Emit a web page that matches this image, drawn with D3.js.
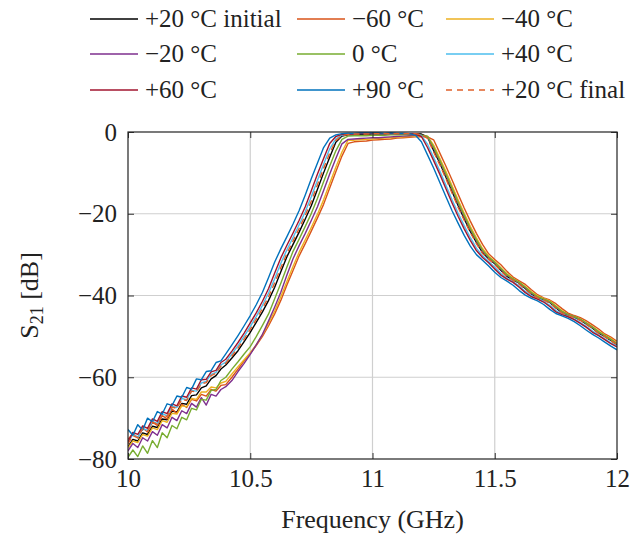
<!DOCTYPE html>
<html lang="en">
<head>
    <meta charset="UTF-8">
    <title>S21 vs temperature</title>
    <script src="https://cdn.jsdelivr.net/npm/d3@7/dist/d3.min.js"></script>
    <style>
        body { margin: 0; background: #fff; }
        text { font-family: "Liberation Serif", "Times New Roman", serif; fill: #222; }
    </style>
</head>
<body>
    <script>
        // frequency grid (GHz), shared by every trace
        var freq = [10.00,10.02,10.04,10.06,10.08,10.10,10.12,10.14,10.16,10.18,10.20,10.22,10.24,10.26,10.28,10.30,10.32,10.34,10.36,10.38,10.40,
            10.425,10.45,10.475,10.50,10.525,10.55,10.575,10.60,10.625,10.65,10.675,10.70,10.725,10.75,10.775,10.80,10.825,10.85,
            10.875,10.90,10.925,10.95,10.975,11.00,11.025,11.05,11.075,11.10,11.125,11.15,11.175,11.20,
            11.225,11.25,11.275,11.30,11.325,11.35,11.375,11.40,11.425,11.45,11.475,11.50,11.525,11.55,11.575,11.60,11.625,11.65,11.675,11.70,11.725,11.75,11.775,11.80,11.825,11.85,11.875,11.90,11.925,11.95,11.975,12.00];

        // S21 in dB, one array per temperature
        var s20init = [-77.0,-75.2,-75.6,-73.6,-74.0,-72.0,-72.3,-70.2,-70.4,-68.3,-68.5,-66.4,-66.6,-64.5,-64.3,-62.6,-62.1,-60.4,-59.6,-58.0,-57.0,
            -55.3,-53.5,-51.3,-49.0,-46.5,-44.0,-41.2,-38.0,-34.2,-30.5,-27.5,-24.5,-21.3,-18.0,-14.0,-10.0,-6.2,-2.5,
            -1.0,-0.7,-0.7,-0.6,-0.6,-0.5,-0.5,-0.5,-0.4,-0.5,-0.5,-0.4,-0.4,-0.5,
            -1.2,-4.5,-7.6,-11.0,-14.5,-18.0,-21.2,-24.3,-27.0,-29.5,-31.0,-32.2,-33.8,-35.3,-36.2,-37.0,-38.3,-39.6,-40.5,-41.0,-41.7,-43.0,-44.2,-44.8,-45.3,-46.0,-47.0,-48.0,-49.2,-50.0,-51.0,-52.0];
        var sm60 = [-75.2,-73.8,-74.8,-72.4,-73.4,-71.0,-71.8,-69.4,-70.2,-67.8,-68.8,-66.6,-67.4,-65.4,-65.8,-64.2,-64.6,-63.0,-63.4,-62.0,-61.8,
            -60.0,-58.0,-56.0,-54.2,-52.2,-50.0,-47.4,-44.5,-41.2,-37.4,-33.9,-30.3,-27.3,-24.2,-21.0,-17.7,-13.7,-9.7,
            -5.9,-2.8,-2.4,-2.3,-2.2,-2.0,-1.9,-1.8,-1.7,-1.5,-1.4,-1.3,-1.2,-1.1,
            -1.2,-1.9,-5.1,-8.3,-11.7,-15.2,-18.6,-21.8,-24.8,-27.5,-29.8,-31.2,-32.5,-34.1,-35.5,-36.4,-37.3,-38.6,-39.8,-40.6,-41.1,-42.0,-43.2,-44.3,-44.9,-45.4,-46.2,-47.2,-48.2,-49.4,-50.2,-51.2];
        var sm40 = [-77.2,-75.6,-76.0,-74.0,-74.4,-72.4,-72.8,-70.6,-71.0,-68.8,-69.0,-67.0,-67.2,-65.2,-65.4,-63.6,-63.6,-62.4,-62.6,-61.4,-61.0,
            -59.2,-57.4,-55.7,-54.0,-52.0,-49.6,-46.8,-43.8,-40.3,-36.6,-32.9,-29.4,-26.4,-23.3,-20.1,-16.6,-12.6,-8.6,
            -4.9,-2.0,-2.0,-1.9,-1.8,-1.7,-1.6,-1.5,-1.4,-1.3,-1.2,-1.1,-1.0,-0.9,
            -1.0,-3.2,-6.4,-9.6,-13.1,-16.6,-19.9,-23.1,-25.9,-28.5,-30.4,-31.7,-33.2,-34.7,-35.8,-36.7,-37.8,-39.1,-40.1,-40.7,-41.3,-42.5,-43.7,-44.6,-45.1,-45.7,-46.6,-47.6,-48.7,-49.7,-50.5,-51.6];
        var sm20 = [-78.0,-76.2,-77.2,-74.8,-75.6,-73.3,-74.2,-71.6,-72.4,-69.8,-70.6,-68.2,-68.9,-66.4,-67.3,-65.0,-66.8,-64.2,-64.6,-63.0,-62.3,
            -60.8,-58.6,-56.6,-54.4,-52.0,-49.5,-46.2,-42.8,-39.2,-35.0,-31.0,-27.8,-24.8,-21.6,-18.3,-14.3,-10.3,-6.5,
            -2.9,-1.8,-1.7,-1.6,-1.5,-1.4,-1.4,-1.3,-1.2,-1.1,-1.0,-0.9,-0.8,-0.8,
            -1.2,-4.0,-7.1,-10.5,-13.9,-17.4,-20.7,-23.8,-26.6,-29.1,-30.8,-32.0,-33.5,-35.1,-36.0,-36.9,-38.1,-39.4,-40.4,-40.9,-41.6,-42.8,-44.0,-44.7,-45.2,-45.9,-46.8,-47.8,-49.0,-49.9,-50.8,-51.8];
        var s0 = [-79.6,-77.8,-79.4,-76.8,-78.6,-75.5,-77.2,-73.6,-74.8,-71.8,-72.6,-69.8,-70.4,-67.6,-68.0,-65.4,-65.6,-63.2,-63.0,-60.8,-60.0,
            -58.0,-56.2,-54.3,-52.5,-50.0,-47.3,-44.5,-40.8,-37.0,-33.0,-29.2,-26.2,-23.1,-19.9,-16.2,-12.2,-8.3,-4.6,
            -1.8,-1.0,-0.9,-0.9,-0.9,-0.8,-0.8,-0.8,-0.7,-0.7,-0.7,-0.6,-0.6,-0.8,
            -1.1,-3.7,-6.9,-10.2,-13.7,-17.2,-20.4,-23.6,-26.4,-28.9,-30.6,-31.9,-33.4,-34.9,-36.0,-36.8,-38.0,-39.3,-40.3,-40.9,-41.5,-42.7,-43.9,-44.7,-45.2,-45.8,-46.8,-47.8,-48.9,-49.8,-50.8,-51.8];
        var sp40 = [-76.0,-74.0,-74.7,-72.5,-73.0,-70.8,-71.3,-69.0,-69.4,-67.1,-67.4,-65.2,-65.5,-63.2,-63.4,-61.4,-61.0,-59.3,-58.8,-57.0,-56.3,
            -54.3,-52.3,-50.0,-47.6,-45.1,-42.4,-39.4,-35.9,-32.1,-28.8,-25.8,-22.7,-19.5,-15.8,-11.8,-7.9,-4.1,-1.7,
            -0.8,-0.5,-0.5,-0.4,-0.4,-0.4,-0.4,-0.4,-0.3,-0.4,-0.4,-0.4,-0.5,-0.9,
            -3.0,-6.2,-9.5,-13.0,-16.5,-19.8,-22.9,-25.8,-28.4,-30.3,-31.7,-33.1,-34.6,-35.8,-36.6,-37.7,-39.0,-40.1,-40.8,-41.4,-42.4,-43.7,-44.5,-45.1,-45.7,-46.6,-47.6,-48.7,-49.7,-50.6,-51.6,-52.3];
        var sp60 = [-75.8,-73.5,-74.0,-71.9,-72.5,-70.2,-70.8,-68.4,-68.9,-66.5,-67.0,-64.6,-64.9,-62.6,-62.9,-60.6,-60.5,-58.7,-58.3,-56.4,-55.6,
            -53.6,-51.5,-49.2,-46.7,-44.2,-41.4,-38.3,-34.5,-30.8,-27.7,-24.7,-21.6,-18.3,-14.3,-10.3,-6.5,-2.8,-1.1,
            -0.6,-0.5,-0.5,-0.4,-0.4,-0.4,-0.4,-0.4,-0.4,-0.4,-0.4,-0.4,-0.5,-1.1,
            -3.8,-7.0,-10.3,-13.8,-17.3,-20.6,-23.7,-26.5,-29.0,-30.7,-32.0,-33.5,-35.0,-36.0,-36.8,-38.0,-39.3,-40.3,-40.9,-41.6,-42.7,-44.0,-44.7,-45.2,-45.9,-46.8,-47.8,-49.0,-49.8,-50.8,-51.8,-52.6];
        var sp90 = [-72.8,-74.2,-71.6,-72.9,-70.0,-70.9,-68.4,-69.0,-66.5,-66.9,-64.6,-64.9,-62.5,-62.9,-60.4,-60.6,-58.6,-58.4,-56.4,-56.0,-54.3,
            -52.1,-49.8,-47.4,-44.9,-42.2,-39.2,-35.6,-31.8,-28.6,-25.6,-22.5,-19.2,-15.4,-11.4,-7.6,-3.8,-1.5,-0.7,
            -0.4,-0.3,-0.3,-0.2,-0.2,-0.2,-0.2,-0.3,-0.2,-0.3,-0.3,-0.4,-0.75,-2.4,
            -5.6,-8.8,-12.3,-15.8,-19.2,-22.3,-25.3,-27.9,-30.0,-31.4,-32.8,-34.3,-35.6,-36.5,-37.5,-38.8,-39.9,-40.7,-41.3,-42.2,-43.4,-44.4,-45.0,-45.6,-46.4,-47.4,-48.5,-49.5,-50.4,-51.4,-52.4,-53.3];
        var s20final = [-76.3,-74.3,-74.8,-72.6,-73.2,-71.0,-71.5,-69.2,-69.6,-67.3,-67.6,-65.4,-65.7,-63.4,-63.6,-61.6,-61.3,-59.6,-59.0,-57.3,-56.6,
            -54.8,-52.9,-50.7,-48.3,-45.8,-43.2,-40.3,-36.9,-33.2,-29.7,-26.7,-23.6,-20.4,-16.9,-12.9,-8.9,-5.2,-2.1,
            -0.9,-0.6,-0.5,-0.5,-0.5,-0.4,-0.4,-0.4,-0.4,-0.4,-0.4,-0.4,-0.4,-0.6,
            -1.6,-4.9,-8.0,-11.4,-14.9,-18.4,-21.6,-24.6,-27.3,-29.7,-31.1,-32.4,-34.0,-35.4,-36.3,-37.2,-38.5,-39.7,-40.6,-41.1,-41.9,-43.1,-44.3,-44.9,-45.4,-46.1,-47.1,-48.1,-49.3,-50.1,-51.1,-52.0];

        // legend labels and styles, same order as the traces
        var labels = ["+20 °C initial", "\u221260 °C", "\u221240 °C", "\u221220 °C", "0 °C", "+40 °C", "+60 °C", "+90 °C", "+20 °C final"];
        var values = [s20init, sm60, sm40, sm20, s0, sp40, sp60, sp90, s20final];
        var colors = ["#000000", "#D95319", "#EDB120", "#7E2F8E", "#77AC30", "#4DBEEE", "#A2142F", "#0072BD", "#E0602A"];
        var dashed = [false, false, false, false, false, false, false, false, true];

        var xTicks = [10, 10.5, 11, 11.5, 12];
        var yTicks = [0, -20, -40, -60, -80];

        var w = 643, h = 538;
        // plot box (note: "top" is reserved on window, so use pL/pR/pT/pB)
        var pL = 128, pR = 617, pT = 132, pB = 459;

        var svg = d3.select("body").append("svg")
            .attr("width", w)
            .attr("height", h);

        var x = d3.scaleLinear().domain([10, 12]).range([pL, pR]);
        var y = d3.scaleLinear().domain([-80, 0]).range([pB, pT]);

        // grid
        svg.append("g").selectAll("line").data(xTicks.slice(1, -1)).enter().append("line")
            .attr("x1", d => x(d)).attr("x2", d => x(d))
            .attr("y1", pT).attr("y2", pB)
            .attr("stroke", "#cfcfcf").attr("stroke-width", 1.2);
        svg.append("g").selectAll("line").data(yTicks.slice(1, -1)).enter().append("line")
            .attr("x1", pL).attr("x2", pR)
            .attr("y1", d => y(d)).attr("y2", d => y(d))
            .attr("stroke", "#cfcfcf").attr("stroke-width", 1.2);

        // traces
        svg.append("clipPath").attr("id", "clip").append("rect")
            .attr("x", pL).attr("y", pT).attr("width", pR - pL).attr("height", pB - pT);

        var line = d3.line()
            .x(d => x(d[0]))
            .y(d => y(d[1]));

        var traces = values.map(function(v, i) {
            return { pts: freq.map((f, j) => [f, v[j]]), color: colors[i], dash: dashed[i] };
        });

        svg.append("g").attr("clip-path", "url(#clip)")
            .selectAll("path").data(traces).enter().append("path")
            .attr("d", d => line(d.pts))
            .attr("fill", "none")
            .attr("stroke", d => d.color)
            .attr("stroke-width", 1.4)
            .attr("stroke-linejoin", "round")
            .attr("stroke-dasharray", d => d.dash ? "6,4" : null);

        // axes with inward ticks
        function styleAxis(g) {
            g.select(".domain").remove();
            g.selectAll(".tick line").attr("stroke", "#333");
            g.selectAll(".tick text").attr("font-size", "25px").attr("fill", "#222")
                .style("font-family", "'Liberation Serif', serif");
        }
        svg.append("g").attr("transform", "translate(0," + pB + ")")
            .call(d3.axisBottom(x).tickValues(xTicks).tickSize(-6).tickPadding(10).tickFormat(d => String(d)))
            .call(styleAxis);
        svg.append("g").attr("transform", "translate(" + pL + ",0)")
            .call(d3.axisLeft(y).tickValues(yTicks).tickSize(-6).tickPadding(11).tickFormat(d3.format("d")))
            .call(styleAxis);
        svg.append("g").attr("transform", "translate(0," + pT + ")")
            .call(d3.axisTop(x).tickValues(xTicks).tickSize(-6).tickFormat(""))
            .call(styleAxis);
        svg.append("g").attr("transform", "translate(" + pR + ",0)")
            .call(d3.axisRight(y).tickValues(yTicks).tickSize(-6).tickFormat(""))
            .call(styleAxis);

        svg.append("rect")
            .attr("x", pL).attr("y", pT)
            .attr("width", pR - pL).attr("height", pB - pT)
            .attr("fill", "none").attr("stroke", "#222").attr("stroke-width", 1.2);

        // axis titles
        svg.append("text")
            .attr("x", (pL + pR) / 2).attr("y", 528)
            .attr("text-anchor", "middle")
            .attr("font-size", "26px")
            .text("Frequency (GHz)");

        var yl = svg.append("text")
            .attr("transform", "translate(38," + ((pT + pB) / 2) + ") rotate(-90)")
            .attr("text-anchor", "middle")
            .attr("font-size", "26px");
        yl.append("tspan").text("S");
        yl.append("tspan").attr("font-size", "18px").attr("dy", 5).text("21");
        yl.append("tspan").attr("dy", -5).text(" [dB]");

        // legend, 3 columns
        var colX = [90, 297, 446];
        var rowY = [19, 54, 90];
        var leg = svg.append("g").selectAll("g").data(labels).enter().append("g")
            .attr("transform", (d, i) => "translate(" + colX[i % 3] + "," + rowY[Math.floor(i / 3)] + ")");
        leg.append("line")
            .attr("x1", 0).attr("x2", 48).attr("y1", 0).attr("y2", 0)
            .attr("stroke", (d, i) => colors[i])
            .attr("stroke-width", 1.6)
            .attr("stroke-dasharray", (d, i) => dashed[i] ? "6,5" : null);
        leg.append("text")
            .attr("x", 55).attr("y", 8)
            .attr("font-size", "25px")
            .text(d => d);
    </script>
</body>
</html>
